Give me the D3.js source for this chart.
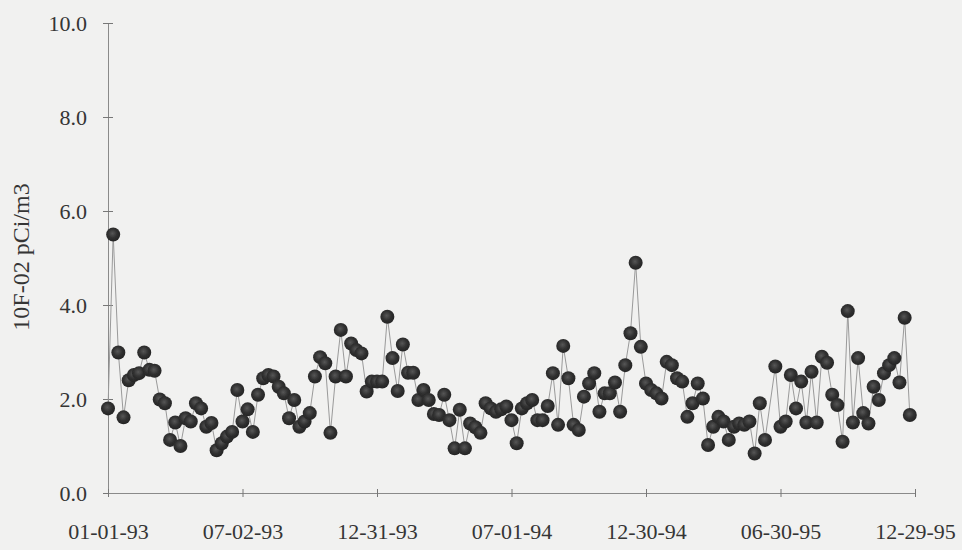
<!DOCTYPE html>
<html>
<head>
<meta charset="utf-8">
<script src="https://cdn.jsdelivr.net/npm/d3@7"></script>
<style>
  html, body { margin: 0; padding: 0; background: #f1f1f0; }
  svg { display: block; }
  text { font-family: "Liberation Serif", "Times New Roman", serif; fill: #353535; }
</style>
</head>
<body>
<svg id="chart" width="962" height="550"></svg>
<script>
// Weekly air sample results, first sample 01-01-93 (null = no sample that week)
const startDate = "1993-01-01";
const endDate = "1995-12-29";
const weeklyValues = [
  1.80, 5.50, 2.99, 1.61, 2.40, 2.51, 2.55, 2.99, 2.62, 2.60,
  1.99, 1.91, 1.13, 1.50, 1.00, 1.59, 1.52, 1.91, 1.80, 1.41,
  1.49, 0.91, 1.06, 1.20, 1.30, 2.19, 1.52, 1.78, 1.30, 2.09,
  2.44, 2.51, 2.48, 2.26, 2.12, 1.59, 1.98, 1.41, 1.52, 1.70,
  2.48, 2.89, 2.76, 1.28, 2.48, 3.47, 2.48, 3.18, 3.04, 2.97,
  2.16, 2.37, 2.37, 2.37, 3.75, 2.87, 2.17, 3.16, 2.56, 2.56,
  1.98, 2.19, 1.98, 1.68, 1.66, 2.09, 1.55, 0.95, 1.77, 0.95,
  1.48, 1.40, 1.28, 1.91, 1.80, 1.73, 1.78, 1.84, 1.55, 1.06,
  1.80, 1.91, 1.98, 1.55, 1.55, 1.85, 2.55, 1.45, 3.13, 2.44,
  1.45, 1.34, 2.05, 2.33, 2.55, 1.73, 2.12, 2.12, 2.35, 1.73,
  2.72, 3.40, 4.90, 3.11, 2.33, 2.19, 2.12, 2.01, 2.79, 2.72,
  2.44, 2.37, 1.62, 1.91, 2.33, 2.01, 1.02, 1.41, 1.62, 1.52,
  1.13, 1.41, 1.48, 1.45, 1.52, 0.84, 1.91, 1.13, null, 2.69,
  1.41, 1.52, 2.51, 1.80, 2.37, 1.50, 2.58, 1.50, 2.90, 2.77,
  2.09, 1.87, 1.09, 3.87, 1.50, 2.87, 1.70, 1.48, 2.26, 1.98,
  2.55, 2.72, 2.87, 2.35, 3.73, 1.66
];
const xTickDates = ["1993-01-01", "1993-07-02", "1993-12-31", "1994-07-01", "1994-12-30", "1995-06-30", "1995-12-29"];
const yTickValues = [0, 2, 4, 6, 8, 10];
const yTitle = "10F-02 pCi/m3";

const parse = d3.utcParse("%Y-%m-%d");
const t0 = parse(startDate);
const points = weeklyValues
  .map((v, i) => ({ date: d3.utcDay.offset(t0, 7 * i), value: v }))
  .filter(d => d.value !== null);

const svg = d3.select("#chart");

const x = d3.scaleUtc()
  .domain([t0, parse(endDate)])
  .range([108, 915]);
const y = d3.scaleLinear()
  .domain([0, 10])
  .range([493, 23]);

// sphere shading for the markers
const defs = svg.append("defs");
const grad = defs.append("radialGradient")
  .attr("id", "ball").attr("cx", "45%").attr("cy", "42%").attr("r", "60%");
grad.append("stop").attr("offset", "0%").attr("stop-color", "#575757");
grad.append("stop").attr("offset", "55%").attr("stop-color", "#303030");
grad.append("stop").attr("offset", "100%").attr("stop-color", "#242424");
defs.append("filter").attr("id", "soft")
  .append("feGaussianBlur").attr("stdDeviation", 0.5);

// y axis: tick marks cross the axis line
const yAxis = svg.append("g")
  .attr("transform", `translate(${x.range()[0]},0)`)
  .call(d3.axisLeft(y).tickValues(yTickValues).tickFormat(d3.format(".1f"))
    .tickSizeInner(5).tickSizeOuter(0).tickPadding(16));
yAxis.select(".domain").attr("stroke", "#8a8a8a").attr("stroke-width", 1);
yAxis.selectAll(".tick line").attr("x2", 5).attr("x1", -5).attr("stroke", "#777");
yAxis.selectAll(".tick text")
  .attr("font-family", "Liberation Serif, serif").attr("font-size", 22).attr("fill", "#353535");

// x axis
const xAxis = svg.append("g")
  .attr("transform", `translate(0,${y(0)})`)
  .call(d3.axisBottom(x).tickValues(xTickDates.map(parse)).tickFormat(d3.utcFormat("%m-%d-%y"))
    .tickSizeInner(4).tickSizeOuter(0).tickPadding(26));
xAxis.select(".domain").attr("stroke", "#8a8a8a").attr("stroke-width", 1);
xAxis.selectAll(".tick line").attr("y1", -4).attr("y2", 4).attr("stroke", "#777");
xAxis.selectAll(".tick text")
  .attr("font-family", "Liberation Serif, serif").attr("font-size", 22).attr("fill", "#353535");

// axis title
svg.append("text")
  .attr("transform", "translate(29,257) rotate(-90)")
  .attr("text-anchor", "middle")
  .attr("font-size", 24)
  .text(yTitle);

// connecting line
const line = d3.line().x(d => x(d.date)).y(d => y(d.value));
svg.append("path")
  .datum(points)
  .attr("d", line)
  .attr("fill", "none")
  .attr("stroke", "#9a9a9a")
  .attr("stroke-width", 1);

// markers
svg.append("g")
  .attr("filter", "url(#soft)")
  .selectAll("circle")
  .data(points)
  .join("circle")
  .attr("cx", d => x(d.date))
  .attr("cy", d => y(d.value))
  .attr("r", 7)
  .attr("fill", "url(#ball)");
</script>
</body>
</html>
